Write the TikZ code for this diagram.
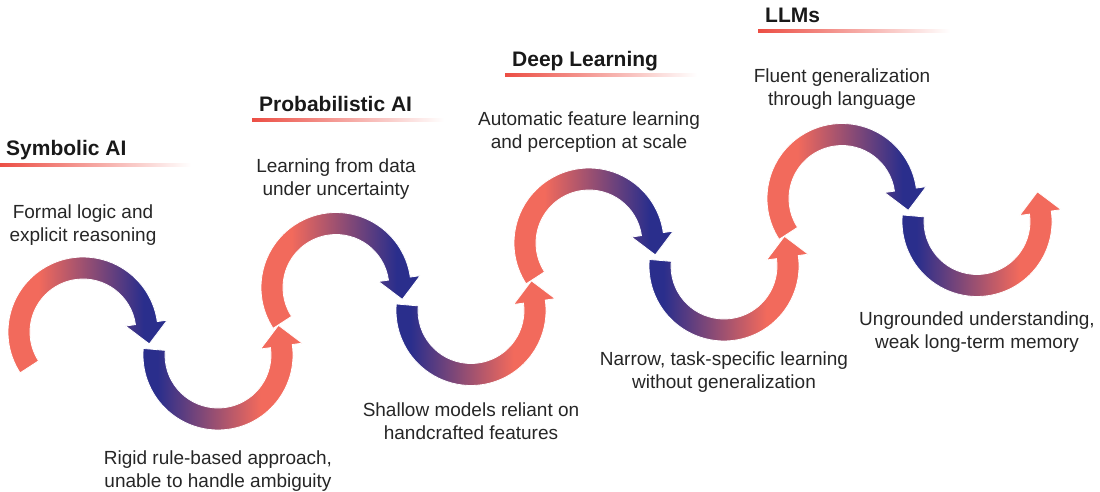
\documentclass[tikz,border=0pt]{standalone}
\usepackage{fontspec}
\setmainfont{Liberation Sans}
\usetikzlibrary{positioning,calc}
\definecolor{coral}{RGB}{242,106,92}
\definecolor{indigo}{RGB}{42,46,140}
\definecolor{ulred}{RGB}{236,78,68}
\definecolor{txtgray}{RGB}{38,38,38}
\pgfdeclarehorizontalshading{topfade}{100bp}{color(0bp)=(coral); color(37bp)=(coral); color(68bp)=(indigo); color(100bp)=(indigo)}
\pgfdeclarehorizontalshading{botfade}{100bp}{color(0bp)=(indigo); color(30bp)=(indigo); color(62bp)=(coral); color(100bp)=(coral)}

\begin{document}
\begin{tikzpicture}[x=1pt, y=1pt] %Evolution de l'IA
           		\tikzstyle{toparc} = [shade, shading=topfade, draw=white, line width=0.8pt]
           		\tikzstyle{botarc} = [shade, shading=botfade, draw=white, line width=0.8pt]
           		\tikzstyle{desc} = [align=center, text=txtgray, font=\fontsize{19}{23}\selectfont]
           		\tikzstyle{ttl} = [anchor=base west, inner sep=0pt, text=black!90, font=\bfseries\fontsize{21}{25}\selectfont]
           		\tikzstyle{uline} = [left color=ulred, right color=white]
           		\useasboundingbox (0,0) rectangle (1100,491);
           		\foreach \k in {0,1,2,3}
           		{
               		\coordinate (T\k) at (83+253*\k, 159+44.5*\k);
               		\coordinate (B\k) at (218+253*\k, 136+44.5*\k);
               		\draw[toparc] ($(T\k)+(213:75)$) arc[start angle=213, end angle=8, radius=75]
                   		-- ($(T\k)+(8:85)$) -- ($(T\k)+(8:64)+(-82:21)$) -- ($(T\k)+(8:43)$) -- ($(T\k)+(8:53)$)
                   		arc[start angle=8, end angle=213, radius=53] -- cycle;
               		\draw[botarc] ($(B\k)+(175:53)$) arc[start angle=175, end angle=368, radius=53]
                   		-- ($(B\k)+(8:43)$) -- ($(B\k)+(8:64)+(98:21)$) -- ($(B\k)+(8:85)$) -- ($(B\k)+(8:75)$)
                   		arc[start angle=368, end angle=175, radius=75] -- cycle;
           		}
           		\node[ttl] (h0) at ($(T0)+(-77,176)$) {Symbolic AI};
           		\node[ttl] (h1) at ($(T1)+(-77,176)$) {Probabilistic AI};
           		\node[ttl] (h2) at ($(T2)+(-77,176)$) {Deep Learning};
           		\node[ttl] (h3) at ($(T3)+(-77,176)$) {LLMs};
           		\foreach \k in {0,1,2,3}
           		{
               		\shade[uline] ($(h\k.base west)+(-7,-7)$) rectangle ++(192,-3);
           		}
           		\node[desc, above=83pt of T0] (d0) {Formal logic and\\explicit reasoning};
           		\node[desc, below=92pt of B0] (d1) {Rigid rule-based approach,\\unable to handle ambiguity};
           		\node[desc, above=85pt of T1] (d2) {Learning from data\\under uncertainty};
           		\node[desc, below=89pt of B1] (d3) {Shallow models reliant on\\handcrafted features};
           		\node[desc, above=87pt of T2] (d4) {Automatic feature learning\\and perception at scale};
           		\node[desc, below=82pt of B2] (d5) {Narrow, task-specific learning\\without generalization};
           		\node[desc, above=86pt of T3] (d6) {Fluent generalization\\through language};
           		\node[desc, below=87pt of B3] (d7) {Ungrounded understanding,\\weak long-term memory};
        		\end{tikzpicture}
\end{document}
